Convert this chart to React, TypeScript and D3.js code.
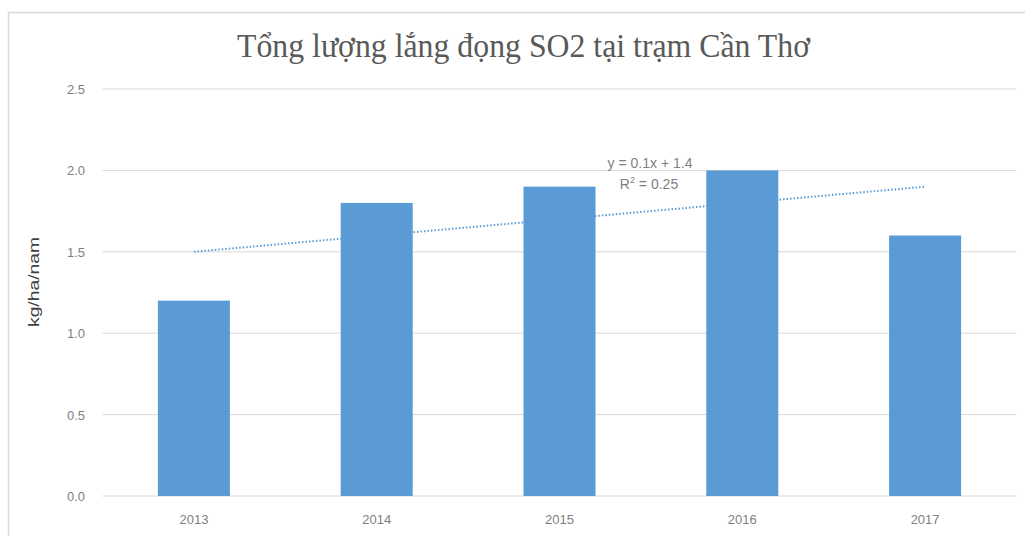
import React from "react";
import * as d3 from "d3";

const years = ["2013", "2014", "2015", "2016", "2017"];
const values = [1.2, 1.8, 1.9, 2.0, 1.6];
const yTicks = [0, 0.5, 1.0, 1.5, 2.0, 2.5];
const titleText = "Tổng lượng lắng đọng SO2 tại trạm Cần Thơ";
const yLabel = "kg/ha/nam";

export default function App() {
  const W = 1025, H = 536;
  const left = 102.5, right = 1016.5, top = 89, bottom = 496;
  const x = d3.scaleBand<string>().domain(years).range([left, right]).paddingInner(0.606).paddingOuter(0.303);
  const y = d3.scaleLinear().domain([0, 2.5]).range([bottom, top]);
  // linear trend
  const xs = values.map((_, i) => i + 1);
  const mx = d3.mean(xs)!, my = d3.mean(values)!;
  const slope = d3.sum(xs.map((xi, i) => (xi - mx) * (values[i] - my))) / d3.sum(xs.map((xi) => (xi - mx) ** 2));
  const intercept = my - slope * mx;
  const ssTot = d3.sum(values.map((v) => (v - my) ** 2));
  const ssRes = d3.sum(values.map((v, i) => (v - (intercept + slope * xs[i])) ** 2));
  const r2 = 1 - ssRes / ssTot;
  const cx = (yr: string) => x(yr)! + x.bandwidth() / 2;
  const trendLine = d3.line<number>()
    .x((xi) => cx(years[xi - 1]))
    .y((xi) => y(intercept + slope * xi));
  const fmt = d3.format(".1f");
  const sans = "Liberation Sans, Arial, sans-serif";
  return (
    <svg width={W} height={H} style={{ position: "absolute", left: 0, top: 0, background: "#fff" }}>
      <rect x={8.5} y={12.5} width={1030} height={540} fill="#fff" stroke="#d9d9d9" strokeWidth={1.5} />
      <text x={237} y={57} textLength={573} lengthAdjust="spacingAndGlyphs" fontFamily="Liberation Serif, serif" fontSize={33} fill="#595959">{titleText}</text>
      {yTicks.map((t) => (
        <g key={t}>
          <line x1={left} x2={right} y1={y(t)} y2={y(t)} stroke="#d9d9d9" strokeWidth={1} />
          <text x={85} y={y(t) + 5} textAnchor="end" fontFamily={sans} fontSize={13} fill="#7f7f7f">{fmt(t)}</text>
        </g>
      ))}
      <path d={trendLine(xs) || ""} fill="none" stroke="#5b9bd5" strokeWidth={2} strokeDasharray="1.5 2" />
      {years.map((yr, i) => (
        <rect key={yr} x={x(yr)} y={y(values[i])} width={x.bandwidth()} height={bottom - y(values[i])} fill="#5b9bd5" />
      ))}
      {years.map((yr) => (
        <text key={yr} x={cx(yr)} y={524} textAnchor="middle" fontFamily={sans} fontSize={13} fill="#7f7f7f">{yr}</text>
      ))}
      <text transform="translate(39,282) rotate(-90)" textAnchor="middle" textLength={90} lengthAdjust="spacingAndGlyphs" fontFamily={sans} fontSize={15} fill="#404040">{yLabel}</text>
      <text x={650} y={168} textAnchor="middle" fontFamily={sans} fontSize={14} fill="#7f7f7f">{`y = ${fmt(slope)}x + ${fmt(intercept)}`}</text>
      <text x={649} y={189} textAnchor="middle" fontFamily={sans} fontSize={14} fill="#7f7f7f">R<tspan dy={-6} fontSize={9}>2</tspan><tspan dy={6}>{` = ${d3.format(".2f")(r2)}`}</tspan></text>
    </svg>
  );
}
